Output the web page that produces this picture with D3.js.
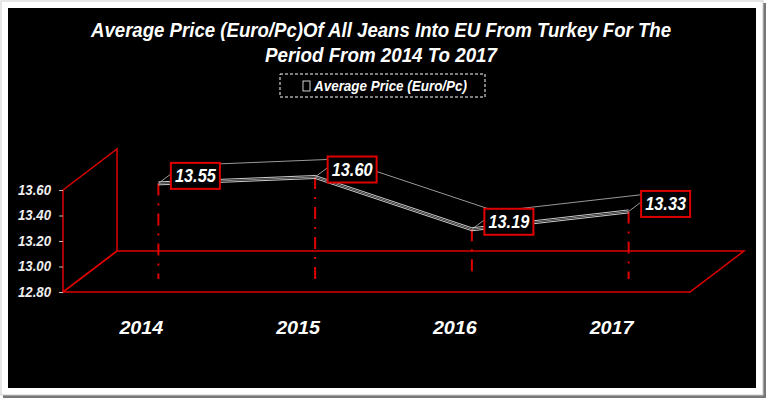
<!DOCTYPE html>
<html>
<head>
<meta charset="utf-8">
<script src="https://cdn.jsdelivr.net/npm/d3@7"></script>
<style>
  body { margin: 0; background: #fff; }
  text { font-family: "Liberation Sans Narrow", "Liberation Sans", Arial, sans-serif; font-weight: bold; font-style: italic; }
</style>
</head>
<body>
<div id="chart"></div>
<script>
var years = ["2014", "2015", "2016", "2017"];
var prices = [13.55, 13.60, 13.19, 13.33];
var yTicks = [12.80, 13.00, 13.20, 13.40, 13.60];
var titleLines = ["Average Price (Euro/Pc)Of All Jeans Into EU From Turkey For The", "Period From 2014 To 2017"];
var seriesName = "Average Price (Euro/Pc)";

var svgWidth = 768;
var svgHeight = 400;

var svg = d3.select("#chart")
    .append("svg")
    .attr("width", svgWidth)
    .attr("height", svgHeight);

// outer card + shadow
svg.append("rect").attr("x", 3).attr("y", 3).attr("width", 763).attr("height", 395).attr("fill", "#777");
svg.append("rect").attr("x", 1).attr("y", 1).attr("width", 762).attr("height", 394)
    .attr("fill", "#fff").attr("stroke", "#ccc");
svg.append("rect").attr("x", 8).attr("y", 8).attr("width", 748).attr("height", 380).attr("fill", "#000");

// title
svg.selectAll(".title")
    .data(titleLines)
    .enter()
    .append("text")
    .attr("class", "title")
    .attr("x", 381)
    .attr("y", (d, i) => 37 + i * 25)
    .attr("text-anchor", "middle")
    .attr("fill", "#fff")
    .attr("font-size", 20)
    .attr("textLength", (d, i) => i === 0 ? 580 : 232)
    .attr("lengthAdjust", "spacingAndGlyphs")
    .text(d => d);

// legend
svg.append("rect")
    .attr("x", 280).attr("y", 74).attr("width", 205).attr("height", 23)
    .attr("fill", "none").attr("stroke", "#fff").attr("stroke-dasharray", "3,2");
svg.append("rect")
    .attr("x", 303).attr("y", 81).attr("width", 7).attr("height", 10)
    .attr("fill", "none").attr("stroke", "#fff").attr("stroke-width", 0.8);
svg.append("text")
    .attr("x", 314).attr("y", 91)
    .attr("fill", "#fff")
    .attr("font-size", 15)
    .attr("textLength", 153)
    .attr("lengthAdjust", "spacingAndGlyphs")
    .text(seriesName);

// scales (front plane)
var xScale = d3.scaleBand().domain(years).range([63, 690]);
var yScale = d3.scaleLinear().domain([12.8, 13.6]).range([292, 190]);

// depth offsets
var wallD = [54, -41];
var frontD = [17, -13];
var backD = [41, -31];

var y0 = yScale(12.8), y1 = yScale(13.6);
var x0 = xScale.range()[0], x1 = xScale.range()[1];

// walls
svg.append("polygon")
    .attr("points", [[x0, y0], [x0, y1], [x0 + wallD[0], y1 + wallD[1]], [x0 + wallD[0], y0 + wallD[1]]].join(" "))
    .attr("fill", "none").attr("stroke", "#e00000").attr("stroke-width", 1.5);
svg.append("polygon")
    .attr("points", [[x0, y0], [x1, y0], [x1 + wallD[0], y0 + wallD[1]], [x0 + wallD[0], y0 + wallD[1]]].join(" "))
    .attr("fill", "none").attr("stroke", "#e00000").attr("stroke-width", 1.5);

// y axis
var yAxis = d3.axisLeft(yScale).tickValues(yTicks).tickFormat(d3.format(".2f")).tickSize(4).tickPadding(8);
var yAxisG = svg.append("g").attr("transform", `translate(${x0}, 0)`).call(yAxis);
yAxisG.select(".domain").remove();
yAxisG.selectAll("line").attr("stroke", "#bbb");
yAxisG.selectAll("text")
    .attr("fill", "#eee")
    .attr("font-size", 14)
    .attr("font-family", null)
    .attr("textLength", 33)
    .attr("lengthAdjust", "spacingAndGlyphs");

// x labels
svg.selectAll(".xlab")
    .data(years)
    .enter()
    .append("text")
    .attr("class", "xlab")
    .attr("x", d => xScale(d) + xScale.bandwidth() / 2)
    .attr("y", 334)
    .attr("text-anchor", "middle")
    .attr("fill", "#fff")
    .attr("font-size", 19)
    .attr("textLength", 44)
    .attr("lengthAdjust", "spacingAndGlyphs")
    .text(d => d);

// points
var pts = years.map((d, i) => ({
    year: d,
    value: prices[i],
    x: xScale(d) + xScale.bandwidth() / 2 + frontD[0],
    y: yScale(prices[i]) + frontD[1]
}));

// drop lines
svg.selectAll(".drop")
    .data(pts)
    .enter()
    .append("line")
    .attr("class", "drop")
    .attr("x1", d => d.x).attr("x2", d => d.x)
    .attr("y1", d => d.y).attr("y2", y0 + frontD[1])
    .attr("stroke", "#e00000").attr("stroke-width", 2)
    .attr("stroke-dasharray", "12,8,2,8");

// ribbon
var line = d3.line().x(d => d[0]).y(d => d[1]);
svg.append("path")
    .attr("d", line(pts.map(p => [p.x + backD[0] - frontD[0], p.y + backD[1] - frontD[1]])))
    .attr("fill", "none").attr("stroke", "#999").attr("stroke-width", 1);
svg.selectAll(".conn")
    .data(pts)
    .enter()
    .append("line")
    .attr("class", "conn")
    .attr("x1", d => d.x).attr("y1", d => d.y)
    .attr("x2", d => d.x + backD[0] - frontD[0]).attr("y2", d => d.y + backD[1] - frontD[1])
    .attr("stroke", "#999").attr("stroke-width", 1);
[0, 1.5, 3].forEach(function(off, k) {
    svg.append("path")
        .attr("d", line(pts.map(p => [p.x, p.y + off - 1.5])))
        .attr("fill", "none")
        .attr("stroke", k === 1 ? "#888" : "#ccc")
        .attr("stroke-width", 1);
});

// data labels
var labels = svg.selectAll(".dlab")
    .data(pts)
    .enter()
    .append("g")
    .attr("class", "dlab")
    .attr("transform", d => `translate(${d.x + 37}, ${d.y - 7.5})`);
labels.append("rect")
    .attr("x", -24.5).attr("y", -13).attr("width", 49).attr("height", 26)
    .attr("fill", "#000").attr("stroke", "#e00000").attr("stroke-width", 2);
labels.append("text")
    .attr("y", 6.5)
    .attr("text-anchor", "middle")
    .attr("fill", "#fff")
    .attr("font-size", 18)
    .attr("textLength", 41)
    .attr("lengthAdjust", "spacingAndGlyphs")
    .text(d => d.value.toFixed(2));
</script>
</body>
</html>
